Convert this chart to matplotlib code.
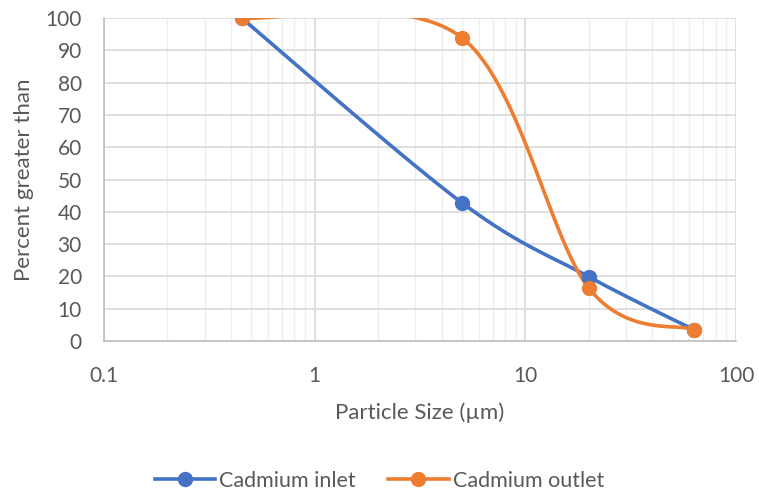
import numpy as np
import matplotlib.pyplot as plt
from matplotlib.ticker import FixedLocator, NullFormatter

size_um = [0.45, 5, 20, 63]
inlet = [100, 42.8, 19.9, 3.5]
outlet = [100, 93.9, 16.4, 3.5]
x_ticks = [0.1, 1, 10, 100]
x_tick_labels = ['0.1', '1', '10', '100']
y_ticks = list(range(0, 101, 10))

blue = '#4472C4'
orange = '#ED7D31'
text_col = '#595959'

plt.rcParams['font.family'] = ['Lato', 'DejaVu Sans']


def smooth(xs, ys, n=40):
    # Excel-style smoothed line: Catmull-Rom style bezier in log-x space
    px = np.log10(xs)
    py = np.array(ys, dtype=float)
    P = np.column_stack([px, py])
    P = np.vstack([P[0], P, P[-1]])
    out = []
    for i in range(1, len(P) - 2):
        p0, p1, p2, p3 = P[i - 1], P[i], P[i + 1], P[i + 2]
        c1 = p1 + (p2 - p0) / 6
        c2 = p2 - (p3 - p1) / 6
        t = np.linspace(0, 1, n)[:, None]
        seg = ((1 - t) ** 3) * p1 + 3 * ((1 - t) ** 2) * t * c1 + 3 * (1 - t) * t ** 2 * c2 + t ** 3 * p2
        out.append(seg)
    s = np.vstack(out)
    return 10 ** s[:, 0], s[:, 1]


fig = plt.figure(figsize=(7.59, 4.93), dpi=100)
ax = fig.add_axes([104 / 759, 1 - 341 / 493, (736 - 104) / 759, (341 - 18) / 493])

for ys, col, lab in [(inlet, blue, 'Cadmium inlet'), (outlet, orange, 'Cadmium outlet')]:
    sx, sy = smooth(size_um, ys)
    ax.plot(sx, sy, color=col, lw=2.6, zorder=3, solid_capstyle='round')
    ax.plot(size_um, ys, 'o', color=col, ms=10, zorder=4)
    ax.plot([], [], color=col, lw=2.6, marker='o', ms=10, label=lab)

ax.set_xscale('log')
ax.set_xlim(0.1, 100)
ax.set_ylim(0, 100)
ax.xaxis.set_major_locator(FixedLocator(x_ticks))
ax.set_xticklabels(x_tick_labels)
minor = [m * d for d in [0.1, 1, 10] for m in range(2, 10)]
ax.xaxis.set_minor_locator(FixedLocator(minor))
ax.xaxis.set_minor_formatter(NullFormatter())
ax.set_yticks(y_ticks)

ax.grid(which='major', color='#d9d9d9', lw=1.2, zorder=0)
ax.grid(which='minor', axis='x', color='#eeeeee', lw=1.0, zorder=0)
ax.set_axisbelow(True)
for side in ['top', 'right']:
    ax.spines[side].set_visible(False)
for side in ['left', 'bottom']:
    ax.spines[side].set_color('#bfbfbf')
    ax.spines[side].set_linewidth(1.2)
ax.tick_params(which='both', length=0, colors=text_col, labelsize=15)
ax.tick_params(axis='x', pad=18)
ax.tick_params(axis='y', pad=16)

ax.set_xlabel('Particle Size (µm)', color=text_col, fontsize=16, labelpad=12)
ax.set_ylabel('Percent greater than', color=text_col, fontsize=16, labelpad=8)

fig.legend(loc='center', bbox_to_anchor=(0.5, 1 - 481 / 493), ncol=2, frameon=False,
           fontsize=15.5, labelcolor=text_col, handlelength=2.8, columnspacing=1.5,
           handletextpad=0.2)

fig.savefig('out.png', dpi=100)
